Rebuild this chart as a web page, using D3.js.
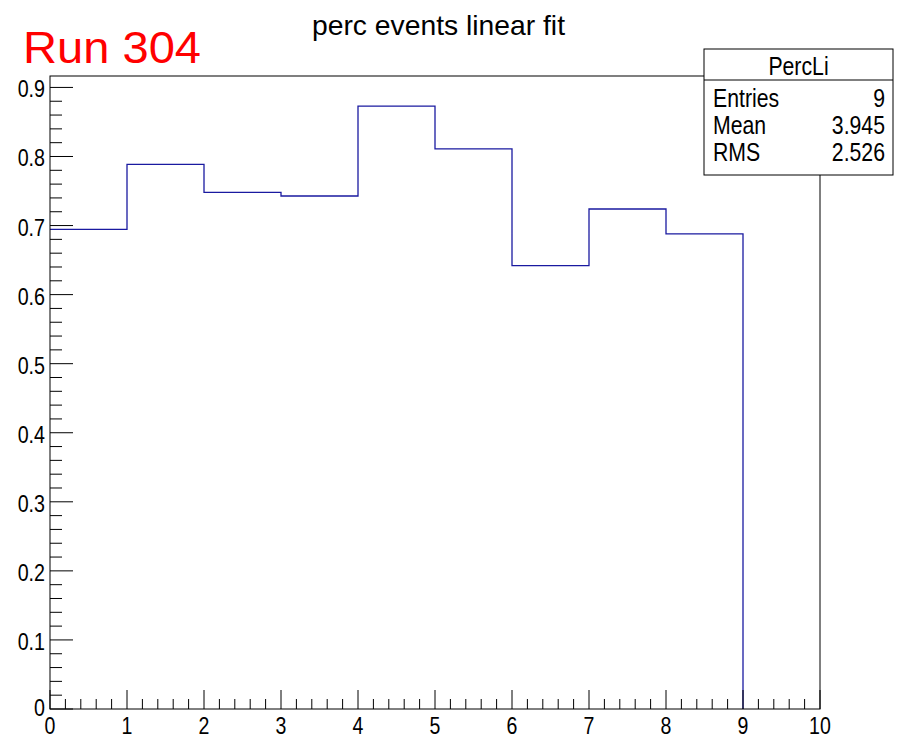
<!DOCTYPE html>
<html><head><meta charset="utf-8">
<script src="https://cdn.jsdelivr.net/npm/d3@7"></script>
<style>
body{margin:0;background:#fff;}
svg{display:block;}
.nar{font-family:"Liberation Sans",Arial,sans-serif;}
</style></head><body>
<svg id="c" width="901" height="738"></svg>
<script>
const binEdges = [0,1,2,3,4,5,6,7,8,9,10];
const binValues = [0.6945,0.7887,0.748,0.7428,0.8729,0.811,0.6419,0.724,0.688,0];
const xTicks = [0,1,2,3,4,5,6,7,8,9,10];
const yTicks = [0,0.1,0.2,0.3,0.4,0.5,0.6,0.7,0.8,0.9];
const statLabels = ["Entries","Mean","RMS"];
const statValues = ["9","3.945","2.526"];
const title = "perc events linear fit";
const histName = "PercLi";
const runLabel = "Run 304";

const svg = d3.select("#c");
const L=50, R=820, T=76, B=709;
const x = d3.scaleLinear().domain([0,10]).range([L,R]);
const ymax = d3.max(binValues)*1.05;
const y = d3.scaleLinear().domain([0,ymax]).range([B,T]);

function narrow(sel, f){
  sel.each(function(){
    const w = this.getComputedTextLength();
    d3.select(this).attr("textLength", w*f).attr("lengthAdjust","spacingAndGlyphs");
  });
}

// histogram outline
let pts = [];
binValues.forEach((v,i)=>{
  pts.push([x(binEdges[i]), y(v)]);
  pts.push([x(binEdges[i+1]), y(v)]);
});
svg.append("path")
  .attr("d", d3.line()(pts.slice(0,pts.length-1)))
  .attr("fill","none").attr("stroke","#1a1aa0").attr("stroke-width",1.3);

// frame
svg.append("rect").attr("x",L).attr("y",T).attr("width",R-L).attr("height",B-T)
  .attr("fill","none").attr("stroke","#000").attr("stroke-width",1);

// y ticks
d3.range(0, ymax+1e-9, 0.02).forEach(v=>{
  const major = Math.abs(Math.round(v*10)-v*10)<1e-6;
  svg.append("line").attr("x1",L).attr("x2",L+(major?23:12))
    .attr("y1",y(v)).attr("y2",y(v)).attr("stroke","#000").attr("stroke-width",1);
});
// x ticks
d3.range(0,10+1e-9,0.2).forEach(v=>{
  const major = Math.abs(Math.round(v)-v)<1e-6;
  svg.append("line").attr("y1",B).attr("y2",B-(major?19:10))
    .attr("x1",x(v)).attr("x2",x(v)).attr("stroke","#000").attr("stroke-width",1);
});

const yl = svg.selectAll(".yl").data(yTicks).enter().append("text").attr("class","nar")
  .attr("x",45).attr("y",d=>d===0 ? y(d)+7 : y(d)+10).attr("text-anchor","end")
  .attr("font-size",24).attr("fill","#000")
  .text(d=>d===0?"0":d3.format(".1f")(d));
narrow(yl, 0.82);
const xl = svg.selectAll(".xl").data(xTicks).enter().append("text").attr("class","nar")
  .attr("x",d=>x(d)).attr("y",733.5).attr("text-anchor","middle")
  .attr("font-size",23).attr("fill","#000").text(d=>d);
narrow(xl, 0.85);

// title
svg.append("text").attr("x",438.5).attr("y",35).attr("text-anchor","middle")
  .attr("font-family","Liberation Sans, Arial, sans-serif").attr("font-size",28)
  .attr("textLength",253).attr("lengthAdjust","spacingAndGlyphs").text(title);
// run label
svg.append("text").attr("x",23).attr("y",63).attr("fill","#ff0000")
  .attr("font-family","Liberation Sans, Arial, sans-serif").attr("font-size",44)
  .attr("textLength",178).attr("lengthAdjust","spacingAndGlyphs").text(runLabel);

// stats box
const bx=704, by=49, bw=189, bh=126;
svg.append("rect").attr("x",bx).attr("y",by).attr("width",bw).attr("height",bh)
  .attr("fill","#fff").attr("stroke","#000").attr("stroke-width",1);
svg.append("line").attr("x1",bx).attr("x2",bx+bw).attr("y1",80).attr("y2",80).attr("stroke","#000");
const hn = svg.append("text").attr("class","nar").attr("x",bx+bw/2).attr("y",75).attr("text-anchor","middle")
  .attr("font-size",25).text(histName);
narrow(hn, 0.85);
const rowY=[107,134,161];
statLabels.forEach((s,i)=>{
  narrow(svg.append("text").attr("class","nar").attr("x",713).attr("y",rowY[i]).attr("font-size",25).text(s), 0.85);
  narrow(svg.append("text").attr("class","nar").attr("x",885).attr("y",rowY[i]).attr("text-anchor","end").attr("font-size",25).text(statValues[i]), 0.85);
});
</script></body></html>
